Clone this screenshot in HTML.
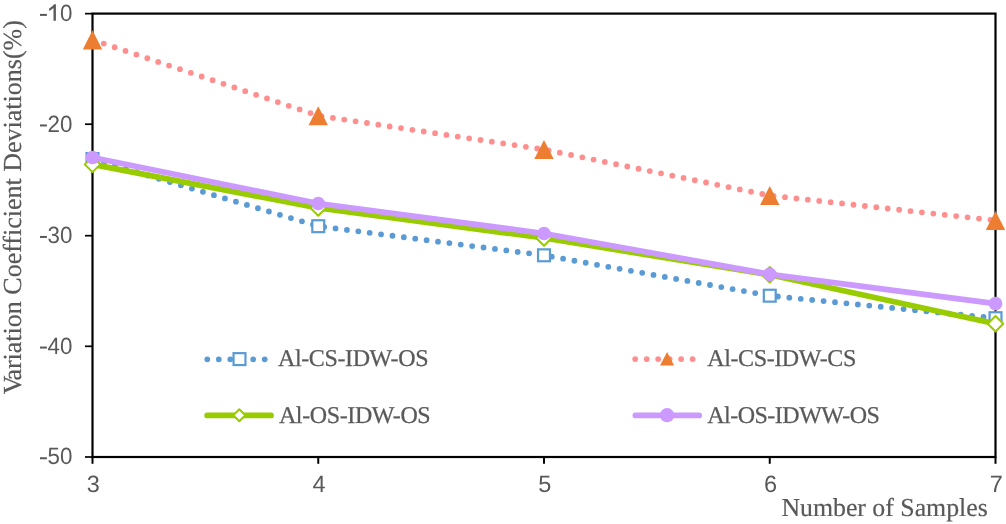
<!DOCTYPE html>
<html><head><meta charset="utf-8"><style>
html,body{margin:0;padding:0;background:#fff;}
body{width:1006px;height:524px;overflow:hidden;}
svg{display:block;will-change:transform;text-rendering:geometricPrecision;}
.tk{font-family:"Liberation Sans",sans-serif;font-size:23.5px;fill:#595959;}
.lg{font-family:"Liberation Serif",serif;font-size:24px;letter-spacing:-0.38px;stroke:#595959;stroke-width:0.25px;fill:#595959;}
.ax{font-family:"Liberation Serif",serif;font-size:25.8px;stroke:#595959;stroke-width:0.2px;font-kerning:normal;font-feature-settings:"kern" 1;fill:#595959;}
</style></head><body>
<svg width="1006" height="524" viewBox="0 0 1006 524">
<rect x="92.5" y="13.6" width="903.0" height="443.4" fill="none" stroke="#000" stroke-width="2.2"/>
<line x1="85" y1="13.65" x2="92.5" y2="13.65" stroke="#000" stroke-width="1.7"/>
<rect x="40.0" y="13.90" width="6.9" height="2.0" fill="#595959"/>
<path d="M55.9,4.3 L55.9,20.7 L53.5,20.7 L53.5,8.0 C52.3,9.0 50.8,10.1 49.1,10.9 L49.1,8.5 C51.2,7.4 53.0,5.8 54.1,4.3 Z" fill="#595959"/>
<text transform="translate(72.4,21.00) scale(0.95,1)" text-anchor="end" class="tk">0</text>
<line x1="85" y1="124.2" x2="92.5" y2="124.2" stroke="#000" stroke-width="1.7"/>
<rect x="40.0" y="124.45" width="6.9" height="2.0" fill="#595959"/>
<text transform="translate(72.4,131.55) scale(0.95,1)" text-anchor="end" class="tk">20</text>
<line x1="85" y1="235.7" x2="92.5" y2="235.7" stroke="#000" stroke-width="1.7"/>
<rect x="40.0" y="235.95" width="6.9" height="2.0" fill="#595959"/>
<text transform="translate(72.4,243.05) scale(0.95,1)" text-anchor="end" class="tk">30</text>
<line x1="85" y1="346.3" x2="92.5" y2="346.3" stroke="#000" stroke-width="1.7"/>
<rect x="40.0" y="346.55" width="6.9" height="2.0" fill="#595959"/>
<text transform="translate(72.4,353.65) scale(0.95,1)" text-anchor="end" class="tk">40</text>
<line x1="85" y1="457.0" x2="92.5" y2="457.0" stroke="#000" stroke-width="1.7"/>
<rect x="40.0" y="457.25" width="6.9" height="2.0" fill="#595959"/>
<text transform="translate(72.4,464.35) scale(0.95,1)" text-anchor="end" class="tk">50</text>
<line x1="92.5" y1="457.0" x2="92.5" y2="463.8" stroke="#000" stroke-width="2.0"/>
<text x="93.20" y="491.5" text-anchor="middle" class="tk">3</text>
<line x1="318.25" y1="457.0" x2="318.25" y2="463.8" stroke="#000" stroke-width="2.0"/>
<text x="318.95" y="491.5" text-anchor="middle" class="tk">4</text>
<line x1="544.0" y1="457.0" x2="544.0" y2="463.8" stroke="#000" stroke-width="2.0"/>
<text x="544.70" y="491.5" text-anchor="middle" class="tk">5</text>
<line x1="769.75" y1="457.0" x2="769.75" y2="463.8" stroke="#000" stroke-width="2.0"/>
<text x="770.45" y="491.5" text-anchor="middle" class="tk">6</text>
<line x1="995.5" y1="457.0" x2="995.5" y2="463.8" stroke="#000" stroke-width="2.0"/>
<text x="996.20" y="491.5" text-anchor="middle" class="tk">7</text>
<polyline points="92.50,159.00 318.25,226.20 544.00,255.30 769.75,295.70 995.50,318.20" fill="none" stroke="#5B9BD5" stroke-width="5.8" stroke-linecap="round" stroke-linejoin="round" stroke-dasharray="0 11.48" stroke-dashoffset="-0.4"/>
<rect x="86.55" y="153.05" width="11.9" height="11.9" fill="#fff" stroke="#5B9BD5" stroke-width="2.2"/>
<rect x="312.30" y="220.25" width="11.9" height="11.9" fill="#fff" stroke="#5B9BD5" stroke-width="2.2"/>
<rect x="538.05" y="249.35" width="11.9" height="11.9" fill="#fff" stroke="#5B9BD5" stroke-width="2.2"/>
<rect x="763.80" y="289.75" width="11.9" height="11.9" fill="#fff" stroke="#5B9BD5" stroke-width="2.2"/>
<rect x="989.55" y="312.25" width="11.9" height="11.9" fill="#fff" stroke="#5B9BD5" stroke-width="2.2"/>
<polyline points="92.50,39.80 318.25,115.70 544.00,149.50 769.75,195.50 995.50,220.40" fill="none" stroke="#FF8F8F" stroke-width="5.8" stroke-linecap="round" stroke-linejoin="round" stroke-dasharray="0 11.48" stroke-dashoffset="-0.4"/>
<path d="M92.50,30.30 L102.20,49.40 L82.80,49.40 Z" fill="#ED7D31"/>
<path d="M318.25,106.20 L327.95,125.30 L308.55,125.30 Z" fill="#ED7D31"/>
<path d="M544.00,140.00 L553.70,159.10 L534.30,159.10 Z" fill="#ED7D31"/>
<path d="M769.75,186.00 L779.45,205.10 L760.05,205.10 Z" fill="#ED7D31"/>
<path d="M995.50,210.90 L1005.20,230.00 L985.80,230.00 Z" fill="#ED7D31"/>
<polyline points="92.50,164.40 318.25,208.00 544.00,238.00 769.75,274.80 995.50,323.70" fill="none" stroke="#99CC00" stroke-width="5.75" stroke-linecap="round" stroke-linejoin="round"/>
<path d="M92.50,156.65 L100.25,164.40 L92.50,172.15 L84.75,164.40 Z" fill="#fff" stroke="#99CC00" stroke-width="2.05" stroke-linejoin="round"/>
<path d="M318.25,200.25 L326.00,208.00 L318.25,215.75 L310.50,208.00 Z" fill="#fff" stroke="#99CC00" stroke-width="2.05" stroke-linejoin="round"/>
<path d="M544.00,230.25 L551.75,238.00 L544.00,245.75 L536.25,238.00 Z" fill="#fff" stroke="#99CC00" stroke-width="2.05" stroke-linejoin="round"/>
<path d="M769.75,267.05 L777.50,274.80 L769.75,282.55 L762.00,274.80 Z" fill="#fff" stroke="#99CC00" stroke-width="2.05" stroke-linejoin="round"/>
<path d="M995.50,315.95 L1003.25,323.70 L995.50,331.45 L987.75,323.70 Z" fill="#fff" stroke="#99CC00" stroke-width="2.05" stroke-linejoin="round"/>
<polyline points="92.50,157.50 318.25,203.50 544.00,233.50 769.75,274.30 995.50,303.70" fill="none" stroke="#CC99FF" stroke-width="5.75" stroke-linecap="round" stroke-linejoin="round"/>
<circle cx="92.50" cy="157.50" r="6.85" fill="#CC99FF"/>
<circle cx="318.25" cy="203.50" r="6.85" fill="#CC99FF"/>
<circle cx="544.00" cy="233.50" r="6.85" fill="#CC99FF"/>
<circle cx="769.75" cy="274.30" r="6.85" fill="#CC99FF"/>
<circle cx="995.50" cy="303.70" r="6.85" fill="#CC99FF"/>
<line x1="207.3" y1="359.3" x2="264.8" y2="359.3" stroke="#5B9BD5" stroke-width="5.8" stroke-linecap="round" stroke-dasharray="0 11.48"/>
<rect x="233.55" y="353.15" width="11.9" height="11.9" fill="#fff" stroke="#5B9BD5" stroke-width="2.2"/>
<line x1="635.2" y1="359.1" x2="692.9" y2="359.1" stroke="#FF8F8F" stroke-width="5.8" stroke-linecap="round" stroke-dasharray="0 11.48"/>
<path d="M667.10,351.90 L674.15,365.60 L660.05,365.60 Z" fill="#ED7D31"/>
<line x1="207.2" y1="415.45" x2="271.0" y2="415.45" stroke="#99CC00" stroke-width="5.8" stroke-linecap="round"/>
<path d="M239.30,409.20 L245.30,415.20 L239.30,421.20 L233.30,415.20 Z" fill="#fff" stroke="#99CC00" stroke-width="2.0" stroke-linejoin="round"/>
<line x1="635.4" y1="415.45" x2="699.2" y2="415.45" stroke="#CC99FF" stroke-width="5.8" stroke-linecap="round"/>
<circle cx="667.10" cy="415.20" r="7.1" fill="#CC99FF"/>
<text x="278" y="366.2" class="lg">Al-CS-IDW-OS</text>
<text x="707.2" y="366.2" class="lg">Al-CS-IDW-CS</text>
<text x="278.9" y="422.9" class="lg">Al-OS-IDW-OS</text>
<text x="707.2" y="422.9" class="lg" style="letter-spacing:-0.5px">Al-OS-IDWW-OS</text>
<text x="781.4" y="516.1" class="ax">Number of Samples</text>
<text transform="translate(21.3,394.2) rotate(-90)" x="0" y="0" class="ax" style="font-size:26px">V<tspan dx="-2.3">ariation Coefficient Deviations(%)</tspan></text>
</svg>
</body></html>
